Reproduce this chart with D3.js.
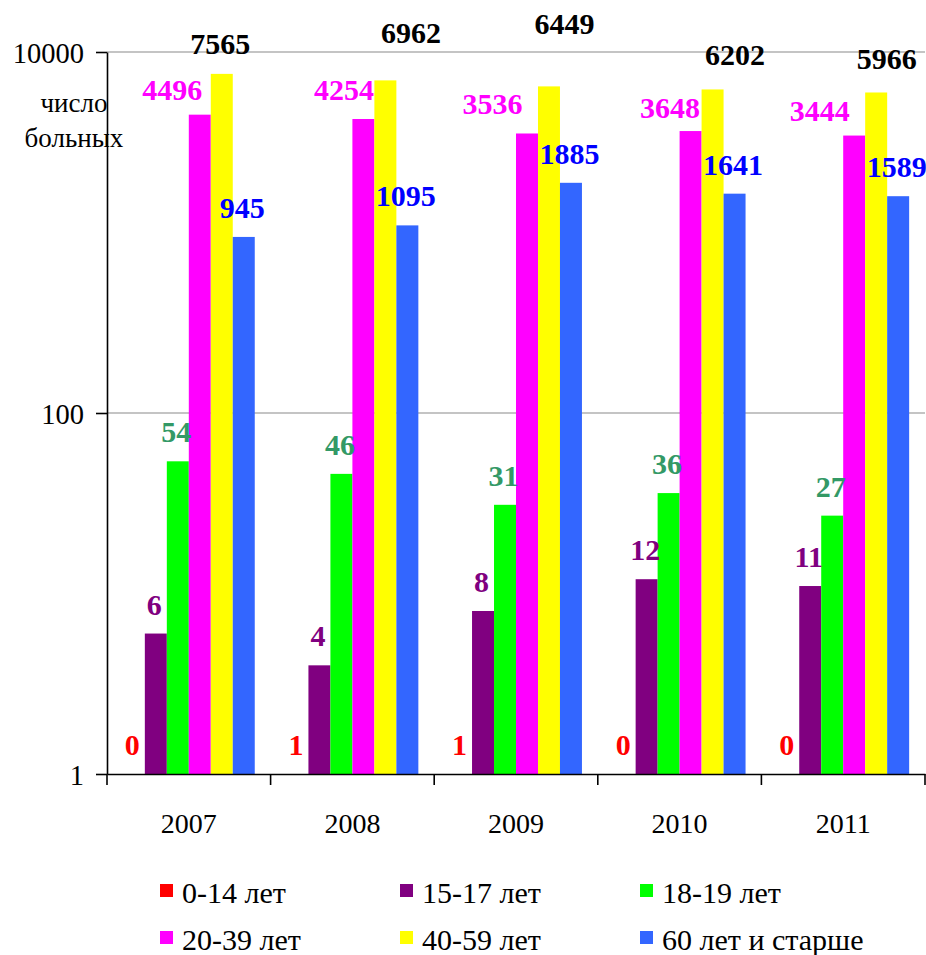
<!DOCTYPE html>
<html>
<head>
<meta charset="utf-8">
<script src="https://cdn.jsdelivr.net/npm/d3@7"></script>
<style>
  html, body { margin: 0; padding: 0; background: #fff; }
  svg { display: block; }
  text { font-family: "Liberation Serif", "Times New Roman", serif; }
</style>
</head>
<body>
<svg id="chart" width="926" height="955"></svg>
<script>
// ---- data ----
const years = ['2007', '2008', '2009', '2010', '2011'];
const seriesNames = ['0-14 лет', '15-17 лет', '18-19 лет', '20-39 лет', '40-59 лет', '60 лет и старше'];
const age0_14   = [0, 1, 1, 0, 0];
const age15_17  = [6, 4, 8, 12, 11];
const age18_19  = [54, 46, 31, 36, 27];
const age20_39  = [4496, 4254, 3536, 3648, 3444];
const age40_59  = [7565, 6962, 6449, 6202, 5966];
const age60plus = [945, 1095, 1885, 1641, 1589];
const yTicks = [1, 100, 10000];
const yTitle = ['число', 'больных'];

const seriesValues = [age0_14, age15_17, age18_19, age20_39, age40_59, age60plus];

// ---- styles / layout ----
const barColors   = ['#FF0000', '#800080', '#00FF00', '#FF00FF', '#FFFF00', '#3366FF'];
const labelColors = ['#FF0000', '#800080', '#339966', '#FF00FF', '#000000', '#0000FF'];
// manual label nudges (dx, dy) per series per year, as in the reference
const labelNudge = {
  3: [[-26, 4], [-18, 0], [-33, 0], [-19, 6], [-33, 4]],
  4: [[0, -1], [27, -18], [17, -33], [24, -5], [12, -4]]
};

const svg = d3.select('#chart');
const plotLeft = 107, plotRight = 925, plotTop = 52, plotBottom = 774;

const x0 = d3.scaleBand().domain(years).range([plotLeft, plotRight]).padding(0);
const gap = 15.85;
const x1 = d3.scaleBand().domain(d3.range(seriesNames.length))
  .range([gap, x0.bandwidth() - gap]).padding(0);
const y = d3.scaleLog().domain([1, 10000]).range([plotBottom, plotTop]);

// gridlines
svg.append('g').selectAll('line').data(yTicks.filter(d => d > 1)).join('line')
  .attr('x1', plotLeft).attr('x2', plotRight)
  .attr('y1', d => y(d)).attr('y2', d => y(d))
  .attr('stroke', '#c4c4c4').attr('stroke-width', 2);

// bars
const rows = [];
seriesValues.forEach((vals, s) => vals.forEach((v, i) => rows.push({ s, i, v, year: years[i] })));

svg.append('g').selectAll('rect').data(rows).join('rect')
  .attr('x', d => x0(d.year) + x1(d.s))
  .attr('width', x1.bandwidth())
  .attr('y', d => y(Math.max(d.v, 1)))
  .attr('height', d => plotBottom - y(Math.max(d.v, 1)))
  .attr('fill', d => barColors[d.s]);

// y axis
const yAxis = svg.append('g').attr('transform', `translate(${plotLeft},0)`)
  .call(d3.axisLeft(y).tickValues(yTicks).tickFormat(d3.format('d'))
    .tickSize(11).tickSizeOuter(0).tickPadding(12));
yAxis.selectAll('text').attr('font-size', 28.5).attr('fill', '#000')
  .attr('dy', '0.38em').style('font-family', '"Liberation Serif", serif');
yAxis.selectAll('line, path').attr('stroke', '#000').attr('stroke-width', 1.6);

// x axis
const xAxis = svg.append('g').attr('transform', `translate(0,${plotBottom})`)
  .call(d3.axisBottom(x0).tickSize(0).tickSizeOuter(0));
xAxis.select('path').attr('stroke', '#000').attr('stroke-width', 1.6);
xAxis.selectAll('text').attr('font-size', 28).attr('fill', '#000')
  .attr('y', 59).attr('dy', 0).style('font-family', '"Liberation Serif", serif');
// category boundary ticks
svg.append('g').selectAll('line').data(years.concat(['end'])).join('line')
  .attr('x1', d => d === 'end' ? plotRight : x0(d))
  .attr('x2', d => d === 'end' ? plotRight : x0(d))
  .attr('y1', plotBottom).attr('y2', plotBottom + 11)
  .attr('stroke', '#000').attr('stroke-width', 1.6);

// value labels
svg.append('g').selectAll('text').data(rows).join('text')
  .attr('x', d => {
    const n = labelNudge[d.s] ? labelNudge[d.s][d.i][0] : 0;
    return x0(d.year) + x1(d.s) + x1.bandwidth() / 2 - 1.5 + n;
  })
  .attr('y', d => {
    const n = labelNudge[d.s] ? labelNudge[d.s][d.i][1] : 0;
    return y(Math.max(d.v, 1)) - 19 + n;
  })
  .attr('text-anchor', 'middle')
  .attr('font-size', 30).attr('font-weight', 'bold')
  .attr('fill', d => labelColors[d.s])
  .text(d => d.v);

// y title
svg.append('text').attr('x', 74).attr('y', 112).attr('text-anchor', 'middle')
  .attr('font-size', 27).selectAll('tspan').data(yTitle).join('tspan')
  .attr('x', 74).attr('dy', (d, i) => i === 0 ? 0 : 35).text(d => d);

// legend
const legCols = [160, 400, 640];
const legRows = [897, 944];
const leg = svg.append('g').selectAll('g').data(seriesNames).join('g')
  .attr('transform', (d, i) => `translate(${legCols[i % 3]},${legRows[Math.floor(i / 3)]})`);
leg.append('rect').attr('x', 0).attr('y', -13).attr('width', 13).attr('height', 13)
  .attr('fill', (d, i) => barColors[i]);
leg.append('text').attr('x', 22).attr('y', 6).attr('font-size', 30).attr('fill', '#000')
  .text(d => d);
</script>
</body>
</html>
